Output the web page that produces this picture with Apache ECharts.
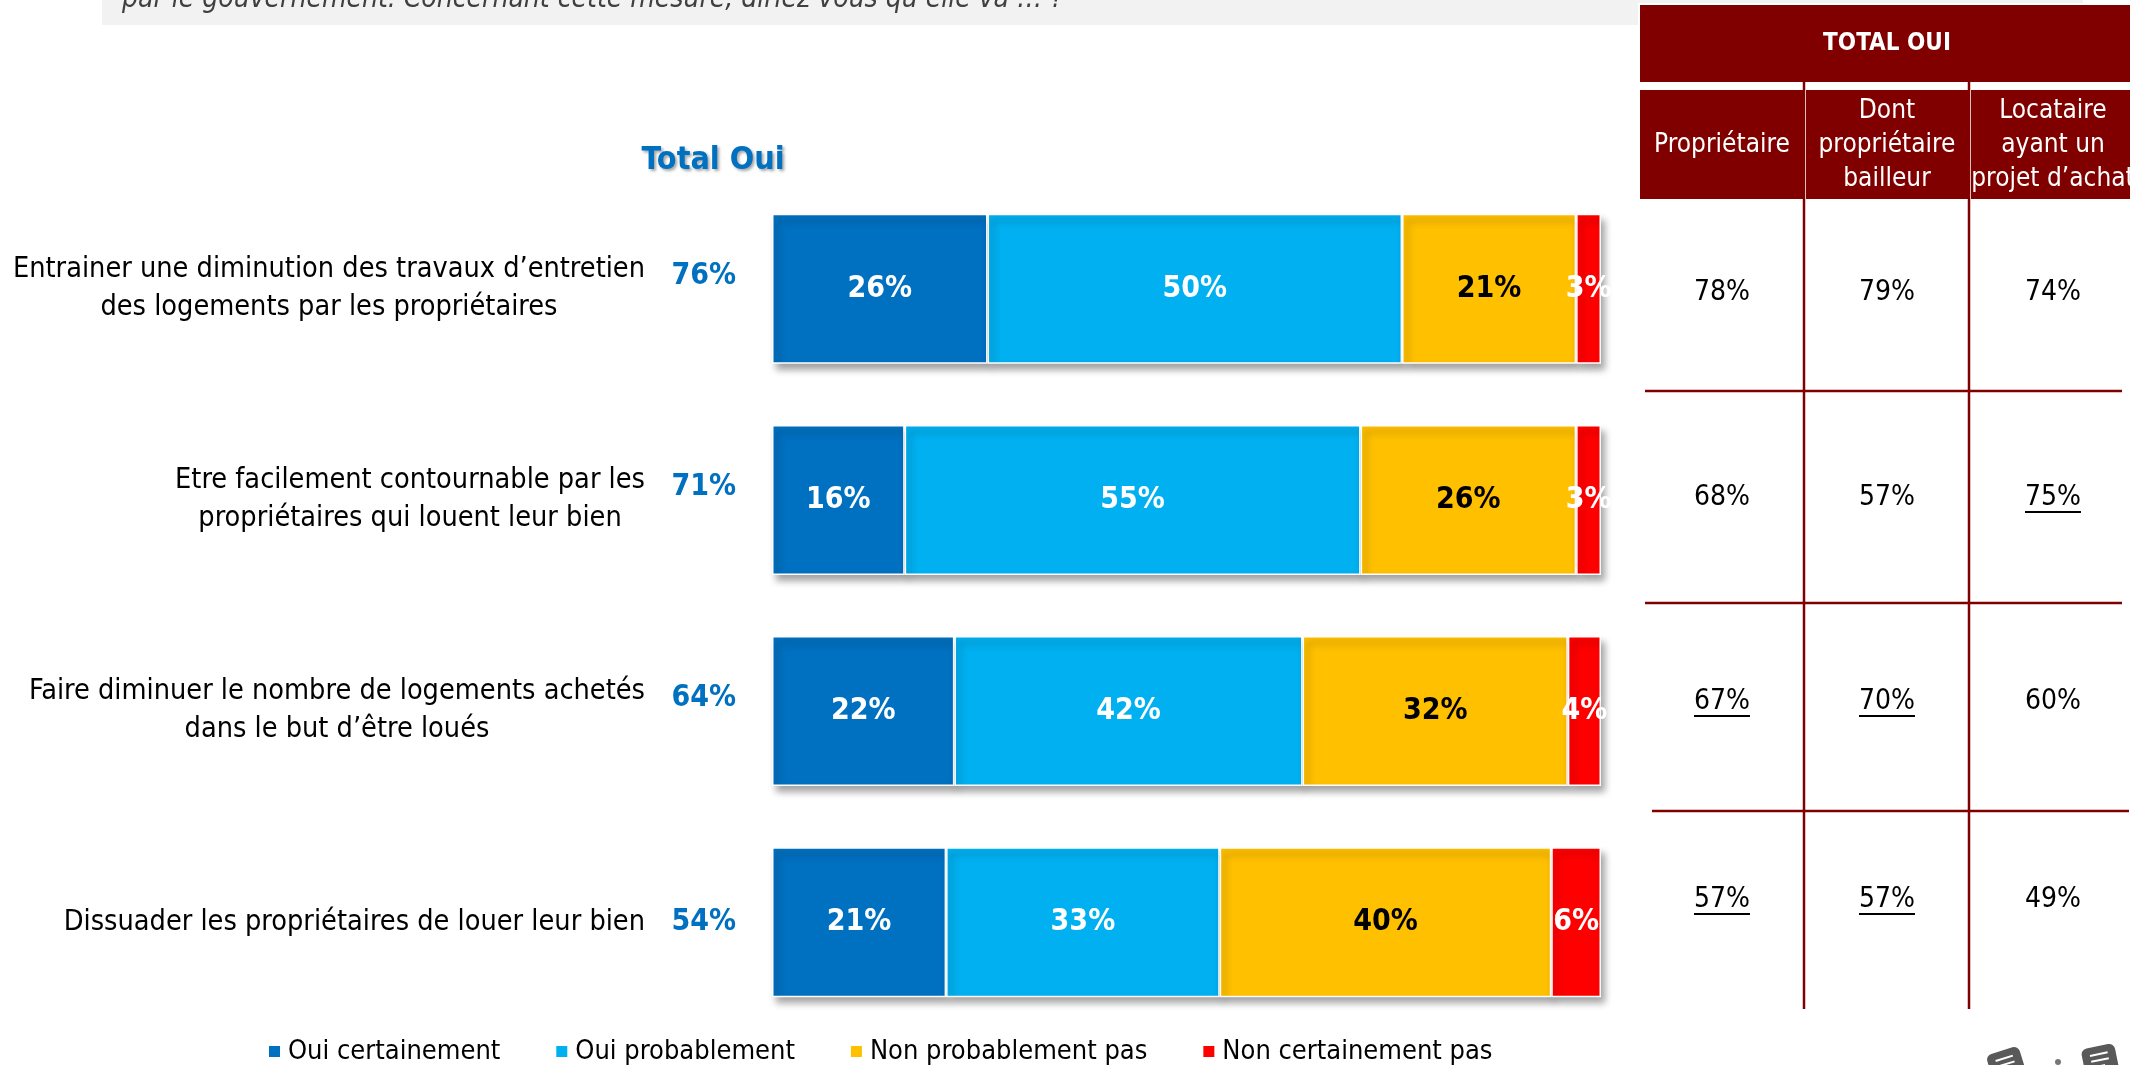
<!DOCTYPE html>
<html>
<head>
<meta charset="utf-8">
<title>Mesure – perception</title>
<script src="https://cdn.jsdelivr.net/npm/echarts@6/dist/echarts.min.js"></script>
<style>
  html, body { margin: 0; padding: 0; background: #fff; }
  #chart { width: 2130px; height: 1065px; }
</style>
</head>
<body>
<div id="chart"></div>
<script>
// ---- data ----
const questionText = 'par le gouvernement. Concernant cette mesure, diriez vous qu’elle va … ?';
const categories = [
  'Entrainer une diminution des travaux d’entretien\ndes logements par les propriétaires',
  'Etre facilement contournable par les\npropriétaires qui louent leur bien',
  'Faire diminuer le nombre de logements achetés\ndans le but d’être loués',
  'Dissuader les propriétaires de louer leur bien'
];
const seriesNames = ['Oui certainement', 'Oui probablement', 'Non probablement pas', 'Non certainement pas'];
const ouiCertainement = [26, 16, 22, 21];
const ouiProbablement = [50, 55, 42, 33];
const nonProbablementPas = [21, 26, 32, 40];
const nonCertainementPas = [3, 3, 4, 6];
const totalOui = [76, 71, 64, 54];

const tableTitle = 'TOTAL OUI';
const tableColumns = ['Propriétaire', 'Dont\npropriétaire\nbailleur', 'Locataire\nayant un\nprojet d’achat'];
const proprietaire = [78, 68, 67, 57];
const dontBailleur = [79, 57, 70, 57];
const locataireProjet = [74, 75, 60, 49];
// significant differences are underlined
const underlinedCells = [
  [false, false, false],
  [false, false, true],
  [true, true, false],
  [true, true, false]
];

// ---- style ----
const FONT = "'Liberation Sans Narrow', 'DejaVu Sans Condensed', 'Liberation Sans', sans-serif";
const COLORS = ['#0070C0', '#00B0F0', '#FFC000', '#FF0000'];
const LABEL_COLORS = ['#ffffff', '#ffffff', '#000000', '#ffffff'];
const DARK_RED = '#800000';

const seriesValues = [ouiCertainement, ouiProbablement, nonProbablementPas, nonCertainementPas];

const chart = echarts.init(document.getElementById('chart'), null, { renderer: 'canvas' });

// text width helper for underlines
const measureCtx = document.createElement('canvas').getContext('2d');
function textWidth(str, size) {
  measureCtx.font = size + 'px ' + FONT;
  return measureCtx.measureText(str).width;
}

// ---- right-hand table ----
const colX = [1722, 1887, 2053];
const cellBounds = [[1640, 1803], [1806, 1968], [1971, 2140]];
const rowY = [293, 498, 702, 900];
const tableCols = [proprietaire, dontBailleur, locataireProjet];
const VALUE_SIZE = 28;

const graphics = [];

// question banner (top)
graphics.push({ type: 'rect', shape: { x: 1638, y: 0, width: 445, height: 3 }, style: { fill: '#F2F2F2' }, z: 0 });
graphics.push({ type: 'rect', shape: { x: 102, y: 0, width: 1536, height: 25 }, style: { fill: '#F2F2F2' }, z: 0 });
graphics.push({
  type: 'text', x: 122, y: 14, z: 1,
  style: { text: questionText, font: 'italic 28px ' + FONT, fill: '#404040', verticalAlign: 'bottom' }
});

// "Total Oui" heading
graphics.push({
  type: 'text', x: 713, y: 161, z: 2,
  style: {
    text: 'Total Oui', font: 'bold 32px ' + FONT, fill: '#0070C0',
    align: 'center', verticalAlign: 'middle',
    textShadowColor: 'rgba(0,0,0,0.35)', textShadowBlur: 3, textShadowOffsetX: 2, textShadowOffsetY: 2
  }
});

// table header
graphics.push({ type: 'rect', shape: { x: 1640, y: 5, width: 500, height: 77 }, style: { fill: DARK_RED }, z: 1 });
graphics.push({
  type: 'text', x: 1887, y: 44, z: 2,
  style: { text: tableTitle, font: 'bold 24px ' + FONT, fill: '#fff', align: 'center', verticalAlign: 'middle' }
});
tableColumns.forEach((name, c) => {
  const [x0, x1] = cellBounds[c];
  graphics.push({ type: 'rect', shape: { x: x0, y: 90, width: x1 - x0, height: 109 }, style: { fill: DARK_RED }, z: 1 });
  graphics.push({
    type: 'text', x: colX[c], y: 145, z: 2,
    style: { text: name, font: '26px ' + FONT, fill: '#fff', align: 'center', verticalAlign: 'middle', lineHeight: 34 }
  });
});

// table grid lines
[1804, 1969].forEach(x => {
  graphics.push({ type: 'line', shape: { x1: x, y1: 82, x2: x, y2: 1009 }, style: { stroke: DARK_RED, lineWidth: 2.5 }, z: 1 });
});
[[391, 1645, 2122], [603, 1645, 2122], [811, 1652, 2129]].forEach(([y, xa, xb]) => {
  graphics.push({ type: 'line', shape: { x1: xa, y1: y, x2: xb, y2: y }, style: { stroke: DARK_RED, lineWidth: 2.5 }, z: 1 });
});

// table values
tableCols.forEach((col, c) => {
  col.forEach((v, r) => {
    const txt = v + '%';
    graphics.push({
      type: 'text', x: colX[c], y: rowY[r], z: 2,
      style: { text: txt, font: VALUE_SIZE + 'px ' + FONT, fill: '#000', align: 'center', verticalAlign: 'middle' }
    });
    if (underlinedCells[r][c]) {
      const w = textWidth(txt, VALUE_SIZE);
      graphics.push({
        type: 'line', z: 2,
        shape: { x1: colX[c] - w / 2, y1: rowY[r] + 14, x2: colX[c] + w / 2, y2: rowY[r] + 14 },
        style: { stroke: '#000', lineWidth: 1.8 }
      });
    }
  });
});

// small logo, bottom right
function bubble(cx, cy, rot) {
  return {
    type: 'group', x: cx, y: cy, rotation: rot, z: 2,
    children: [
      { type: 'rect', shape: { x: -17, y: -14, width: 34, height: 30, r: 6 }, style: { fill: '#595959' } },
      { type: 'line', shape: { x1: -9, y1: -6, x2: 9, y2: -6 }, style: { stroke: '#fff', lineWidth: 2 } },
      { type: 'line', shape: { x1: -9, y1: 0, x2: 9, y2: 0 }, style: { stroke: '#fff', lineWidth: 2 } },
      { type: 'line', shape: { x1: -9, y1: 6, x2: 4, y2: 6 }, style: { stroke: '#fff', lineWidth: 2 } }
    ]
  };
}
graphics.push(bubble(2006, 1064, 0.3));
graphics.push(bubble(2100, 1060, 0.2));
graphics.push({ type: 'circle', shape: { cx: 2058, cy: 1062, r: 3 }, style: { fill: '#777' }, z: 2 });

// ---- chart ----
const isTwoLine = categories.map(c => c.indexOf('\n') >= 0);

const option = {
  animation: false,
  backgroundColor: '#ffffff',
  grid: { left: 772, right: 529, top: 183.3, bottom: 37.3, containLabel: false, outerBoundsMode: 'none' },
  legend: {
    data: seriesNames,
    left: 262, top: 1033,
    icon: 'rect', itemWidth: 13, itemHeight: 13, itemGap: 54,
    textStyle: { fontFamily: FONT, fontSize: 27, color: '#000', padding: [0, 0, 0, 2] }
  },
  xAxis: { type: 'value', min: 0, max: 100, show: false },
  yAxis: [
    {
      type: 'category', data: categories, inverse: true,
      axisLine: { show: false }, axisTick: { show: false }, splitLine: { show: false },
      axisLabel: {
        margin: 127, align: 'right', verticalAlign: 'middle',
        formatter: v => v.split('\n').map(l => '{c|' + l + '}').join('\n'),
        rich: { c: { align: 'center', fontFamily: FONT, fontSize: 28.6, lineHeight: 38, color: '#000' } }
      }
    },
    {
      type: 'category', data: totalOui.map(String), inverse: true, position: 'left',
      axisLine: { show: false }, axisTick: { show: false }, splitLine: { show: false },
      axisLabel: {
        margin: 36, align: 'right', verticalAlign: 'middle',
        formatter: (v, i) => (isTwoLine[i] ? '{up|' : '{mid|') + v + '%}',
        rich: {
          up: { fontFamily: FONT, fontSize: 30, fontWeight: 'bold', color: '#0070C0', padding: [0, 0, 26, 0] },
          mid: { fontFamily: FONT, fontSize: 30, fontWeight: 'bold', color: '#0070C0' }
        }
      }
    }
  ],
  series: seriesNames.map((name, s) => ({
    name,
    type: 'bar',
    stack: 'total',
    xAxisIndex: 0,
    yAxisIndex: 0,
    barWidth: 150,
    data: seriesValues[s],
    itemStyle: {
      color: COLORS[s],
      borderColor: '#ffffff',
      borderWidth: 1.5,
      shadowColor: 'rgba(0,0,0,0.38)',
      shadowBlur: 7,
      shadowOffsetX: 4,
      shadowOffsetY: 6
    },
    label: {
      show: true,
      position: 'inside',
      formatter: '{c}%',
      fontFamily: FONT,
      fontSize: 30,
      fontWeight: 'bold',
      color: LABEL_COLORS[s]
    }
  })),
  graphic: graphics
};

chart.setOption(option);
</script>
</body>
</html>
